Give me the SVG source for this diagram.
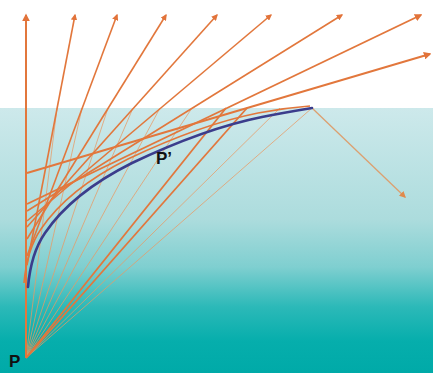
<svg xmlns="http://www.w3.org/2000/svg" width="433" height="373" viewBox="0 0 433 373">
  <defs>
    <linearGradient id="water" gradientUnits="userSpaceOnUse" x1="0" y1="108" x2="0" y2="373">
      <stop offset="0" stop-color="#cde9eb"/>
      <stop offset="0.42" stop-color="#acdcdd"/>
      <stop offset="0.6" stop-color="#7fcfd0"/>
      <stop offset="0.75" stop-color="#2cb9b8"/>
      <stop offset="0.88" stop-color="#06aeac"/>
      <stop offset="1" stop-color="#00aaa8"/>
    </linearGradient>
    <marker id="tip" viewBox="0 0 10 10" refX="8" refY="5" markerWidth="4" markerHeight="4" orient="auto" markerUnits="strokeWidth">
      <path d="M0,0 L10,5 L0,10 z" fill="#e2733a"/>
    </marker>
    <marker id="tipFaint" viewBox="0 0 10 10" refX="8" refY="5" markerWidth="5" markerHeight="5" orient="auto" markerUnits="strokeWidth">
      <path d="M0,0 L10,5 L0,10 z" fill="#e08a4c"/>
    </marker>
  </defs>
  <style>
    .ray { stroke: #e2773c; stroke-width: 1.6; fill: none; marker-end: url(#tip); }
    .src { stroke: #e89a64; stroke-width: 1; fill: none; opacity: 0.75; }
    .srcBold { stroke: #e2773c; stroke-width: 1.8; fill: none; }
    .refl { stroke: #dca070; stroke-width: 1.3; fill: none; marker-end: url(#tipFaint); }
    .label { font-family: "Liberation Sans", Arial, sans-serif; font-weight: bold; font-size: 17px; fill: #111; }
  </style>

  <!-- air and water -->
  <rect x="0" y="0" width="433" height="108" fill="#ffffff"/>
  <rect x="0" y="108" width="433" height="265" fill="url(#water)"/>

  <g id="connectors">
    <!-- rays from P up to the surface -->
    <g id="source-rays">
      <line class="src" x1="26" y1="358" x2="57" y2="108"/>
      <line class="src" x1="26" y1="358" x2="82" y2="108"/>
      <line class="src" x1="26" y1="358" x2="108" y2="108"/>
      <line class="src" x1="26" y1="358" x2="133" y2="108"/>
      <line class="src" x1="26" y1="358" x2="160" y2="108"/>
      <line class="src" x1="26" y1="358" x2="192" y2="108"/>
      <line class="src" x1="26" y1="358" x2="280" y2="108"/>
      <line class="src" x1="26" y1="358" x2="312" y2="108"/>
      <line class="srcBold" x1="26" y1="358" x2="226" y2="108"/>
      <line class="srcBold" x1="26" y1="358" x2="247" y2="108"/>
    </g>
    <!-- refracted rays, drawn back through the water to the vertical -->
    <g id="refracted-rays">
      <line class="ray" x1="26" y1="358" x2="26" y2="15" style="stroke-width:2"/>
      <line class="ray" x1="27" y1="265" x2="75" y2="15"/>
      <line class="ray" x1="27" y1="256" x2="117" y2="15"/>
      <line class="ray" x1="27" y1="239" x2="166" y2="15"/>
      <line class="ray" x1="27" y1="227" x2="217" y2="15"/>
      <line class="ray" x1="27" y1="221" x2="271" y2="15"/>
      <line class="ray" x1="27" y1="211" x2="342" y2="15"/>
      <line class="ray" x1="27" y1="204" x2="421" y2="15" style="stroke-width:1.9"/>
      <line class="ray" x1="27" y1="173" x2="430" y2="54" style="stroke-width:1.9"/>
    </g>
    <!-- total internal reflection at the critical point -->
    <line class="refl" x1="312" y1="108" x2="405" y2="197"/>
  </g>

  <!-- caustic: apparent positions of P -->
  <g id="caustic">
    <path d="M26,285 C28,262 34,244 43,231 C62,203 92,180 130,161 C170,142 215,124 260,115 C280,111 298,109 312,108" transform="translate(-2,-2)" fill="none" stroke="#e2773c" stroke-width="1.6"/>
    <path d="M28,287 C30,264 36,246 45,233 C64,205 94,182 132,163 C172,144 217,126 262,117 C282,113 300,110 312,108" fill="none" stroke="#3b3d8c" stroke-width="2.6" stroke-linecap="round"/>
  </g>

  <g id="point-P">
    <text class="label" x="9" y="367">P</text>
  </g>
  <g id="point-P-prime">
    <text class="label" x="156" y="164">P’</text>
  </g>
</svg>
